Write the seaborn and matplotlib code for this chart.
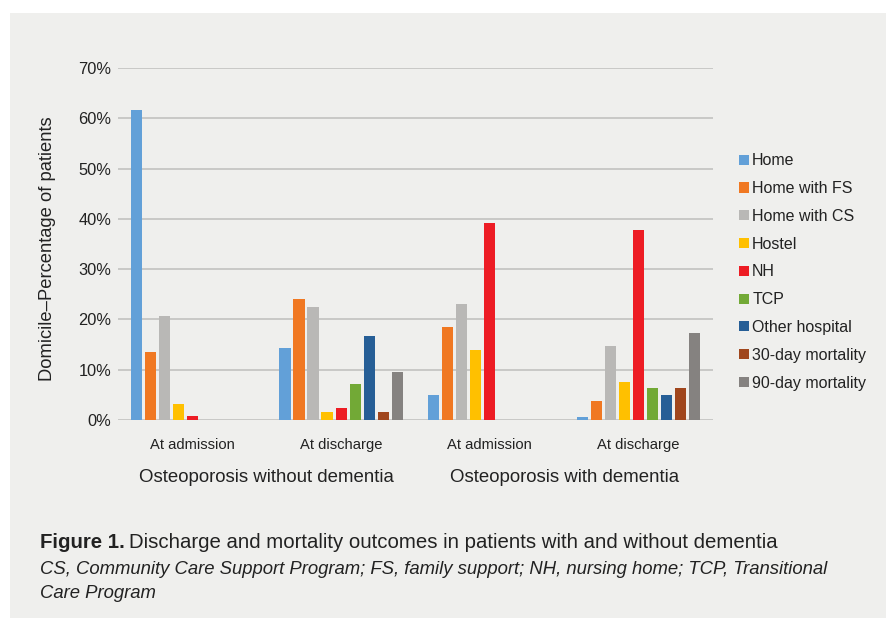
import matplotlib
matplotlib.use("Agg")
import matplotlib.pyplot as plt
import seaborn as sns
import pandas as pd
from matplotlib.patches import Rectangle
from matplotlib.ticker import PercentFormatter
import matplotlib.transforms as mtransforms

# ---------------- data ----------------
group_keys = ["nd_adm", "nd_dis", "d_adm", "d_dis"]
tick_labels = ["At admission", "At discharge", "At admission", "At discharge"]
group_titles = ["Osteoporosis without dementia", "Osteoporosis with dementia"]

outcomes = ["Home", "Home with FS", "Home with CS", "Hostel", "NH", "TCP",
            "Other hospital", "30-day mortality", "90-day mortality"]

home = [61.6, 14.3, 5.0, 0.5]
home_fs = [13.5, 24.0, 18.5, 3.7]
home_cs = [20.7, 22.4, 23.0, 14.7]
hostel = [3.1, 1.6, 14.0, 7.6]
nh = [0.7, 2.3, 39.1, 37.8]
tcp = [0.0, 7.2, 0.0, 6.3]
other_hospital = [0.0, 16.7, 0.0, 5.0]
mort30 = [0.0, 1.6, 0.0, 6.3]
mort90 = [0.0, 9.6, 0.0, 17.3]

colors = ["#62a0d8", "#f07822", "#b9b8b6", "#ffc000", "#ed1c24", "#72a936",
          "#265e96", "#a0461d", "#858280"]

series = [home, home_fs, home_cs, hostel, nh, tcp, other_hospital, mort30, mort90]
rows = []
for name, vals in zip(outcomes, series):
    for g, v in zip(group_keys, vals):
        rows.append({"group": g, "outcome": name, "value": v / 100.0})
df = pd.DataFrame(rows)

# ---------------- figure ----------------
W, H = 887, 618
fig = plt.figure(figsize=(W / 100, H / 100), dpi=100, facecolor="white")
BG = "#efefed"
fig.patches.append(Rectangle((10 / W, 0), 1 - 10 / W, 1 - 13 / H,
                             transform=fig.transFigure, facecolor=BG,
                             edgecolor="none", zorder=-10))

FONT = ["Liberation Sans", "DejaVu Sans"]
plt.rcParams["font.family"] = FONT
TXT = "#222222"

ax = fig.add_axes([118 / W, 1 - 420 / H, (713 - 118) / W, (420 - 68) / H])
ax.set_facecolor(BG)

sns.barplot(data=df, x="group", y="value", hue="outcome", order=group_keys,
            hue_order=outcomes, palette=dict(zip(outcomes, colors)),
            width=0.85, gap=0.2, saturation=1, errorbar=None, ax=ax,
            legend=True)

ax.set_ylim(0, 0.70)
ax.set_yticks([i / 10 for i in range(8)])
ax.yaxis.set_major_formatter(PercentFormatter(1.0, decimals=0))
ax.grid(axis="y", color="#c6c6c4", linewidth=1.3)
ax.set_axisbelow(True)
for s in ax.spines.values():
    s.set_visible(False)
ax.tick_params(axis="both", length=0)
ax.tick_params(axis="y", pad=5, labelsize=11.8, labelcolor=TXT)
ax.tick_params(axis="x", pad=13, labelsize=10.6, labelcolor=TXT)
ax.set_xticks(range(len(group_keys)))
ax.set_xticklabels(tick_labels)
ax.set_xlabel("")
ax.set_ylabel("Domicile\u2013Percentage of patients", fontsize=13.2, color=TXT)
ax.yaxis.set_label_coords(56 / W, 1 - 248.5 / H, transform=fig.transFigure)
ax.set_xlim(-0.5, 3.5)

trans = mtransforms.blended_transform_factory(ax.transData, fig.transFigure)
for i, t in enumerate(group_titles):
    ax.text(2 * i + 0.5, 1 - 478 / H, t, transform=trans, ha="center",
            va="center", fontsize=13.45, color=TXT)

# legend
handles, labels = ax.get_legend_handles_labels()
ax.legend_.remove()
fig.legend(handles, labels, loc="upper left",
           bbox_to_anchor=(725 / W, 1 - 139 / H), frameon=False,
           fontsize=11.5, handlelength=0.6, handleheight=0.6,
           handletextpad=0.2, labelspacing=0.8, labelcolor=TXT)

# caption
y1 = 1 - 543 / H
t1 = fig.text(40 / W, y1, "Figure 1.", fontsize=14.7, fontweight="bold",
              color=TXT, va="center")
fig.canvas.draw()
bb = t1.get_window_extent()
fig.text((bb.x1 + 4) / W, y1,
         "Discharge and mortality outcomes in patients with and without dementia",
         fontsize=14.7, color=TXT, va="center")
fig.text(40 / W, 1 - 570 / H,
         "CS, Community Care Support Program; FS, family support; NH, nursing home; TCP, Transitional",
         fontsize=13.3, style="italic", color=TXT, va="center")
fig.text(40 / W, 1 - 594 / H, "Care Program", fontsize=13.3, style="italic",
         color=TXT, va="center")

fig.savefig("out.png", dpi=100, facecolor="white")
